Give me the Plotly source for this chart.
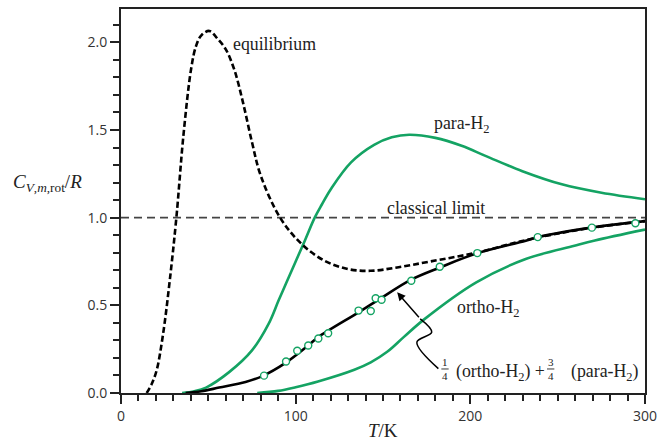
import plotly.graph_objects as go

GREEN = "#14A363"

# equilibrium (dashed black)
eq_T = [14.7, 17.5, 20.4, 24.1, 27.9, 31.7, 35.8, 40.2, 43.0, 46.0, 50.6, 55.3, 60.0, 65.0, 70.0, 75.0,
        80.0, 91.1, 103.4, 116.6, 129.8, 143.0, 158.1, 177.0, 203.4, 226.0, 240.0, 270.0, 300.0]
eq_C = [0.0, 0.05, 0.129, 0.337, 0.64, 1.0, 1.475, 1.852, 1.98, 2.04, 2.065, 2.02, 1.96, 1.84, 1.65, 1.43,
        1.24, 1.0, 0.85, 0.754, 0.707, 0.697, 0.716, 0.75, 0.80, 0.858, 0.89, 0.943, 0.98]

# normal mixture (solid black)
mix_T = [37.0, 46.0, 56.2, 71.3, 80.7, 94.0, 107.2, 112.8, 136.0, 148.7, 165.6, 182.6, 203.4, 231.7, 239.2, 269.4, 300.0]
mix_C = [0.0, 0.01, 0.031, 0.063, 0.095, 0.17, 0.271, 0.318, 0.46, 0.54, 0.644, 0.716, 0.795, 0.868, 0.89, 0.943, 0.98]

# para-H2 (green)
para_T = [35.0, 42.0, 48.7, 61.9, 75.0, 84.5, 90.2, 94.9, 100.0, 105.3, 110.9, 115.0, 120.3, 131.7, 144.9, 155.0, 165.0,
          180.0, 195.0, 209.0, 229.8, 252.4, 275.1, 300.0]
para_C = [0.0, 0.01, 0.031, 0.119, 0.243, 0.394, 0.527, 0.634, 0.75, 0.87, 1.0, 1.075, 1.165, 1.315, 1.415, 1.458, 1.473,
          1.455, 1.41, 1.351, 1.265, 1.19, 1.142, 1.105]

# ortho-H2 (green)
ortho_T = [78.0, 90.0, 100.0, 112.8, 133.6, 143.0, 152.4, 162.0, 173.2, 203.4, 231.7, 259.6, 271.3, 300.0]
ortho_C = [0.0, 0.012, 0.033, 0.066, 0.133, 0.175, 0.235, 0.32, 0.417, 0.631, 0.764, 0.84, 0.87, 0.932]

# experimental points
exp_T = [81.9, 94.5, 100.9, 107.2, 113.0, 118.6, 136.0, 143.0, 145.8, 149.2, 166.2, 182.5, 204.0, 238.6, 269.6, 294.5]
exp_C = [0.099, 0.180, 0.241, 0.271, 0.311, 0.341, 0.470, 0.468, 0.540, 0.532, 0.640, 0.72, 0.798, 0.889, 0.943, 0.968]

classical_T = [0, 300]
classical_C = [1.0, 1.0]

# squiggle leader for the mixture label
squig_T = [171.3, 177.9, 169.4, 181.7]
squig_C = [0.423, 0.347, 0.290, 0.139]
arrow_tip = (158.1, 0.574)

x_ticks = [0, 100, 200, 300]
y_ticks = [0.0, 0.5, 1.0, 1.5, 2.0]

fig = go.Figure()
fig.add_trace(go.Scatter(x=classical_T, y=classical_C, mode="lines",
                         line=dict(color="#444444", width=1.8, dash="8px,5px")))
fig.add_trace(go.Scatter(x=para_T, y=para_C, mode="lines", line_shape="spline",
                         line=dict(color=GREEN, width=2.6)))
fig.add_trace(go.Scatter(x=ortho_T, y=ortho_C, mode="lines", line_shape="spline",
                         line=dict(color=GREEN, width=2.6)))
fig.add_trace(go.Scatter(x=mix_T, y=mix_C, mode="lines", line_shape="spline",
                         line=dict(color="black", width=2.6)))
fig.add_trace(go.Scatter(x=eq_T, y=eq_C, mode="lines", line_shape="spline",
                         line=dict(color="black", width=2.6, dash="6px,3px")))
fig.add_trace(go.Scatter(x=exp_T, y=exp_C, mode="markers",
                         marker=dict(symbol="circle", size=7, color="white",
                                     line=dict(color=GREEN, width=1.4))))
fig.add_trace(go.Scatter(x=squig_T, y=squig_C, mode="lines", line_shape="spline",
                         line=dict(color="black", width=1.5)))

serif = dict(family="Liberation Serif", size=17.8, color="#222222")
frac_font = dict(family="Liberation Serif", size=11, color="#222222")
fig.add_annotation(x=62.8, y=1.99, xref="x", yref="y", text="equilibrium", showarrow=False,
                   xanchor="left", yanchor="middle", font=serif)
fig.add_annotation(x=177.9, y=1.53, xref="x", yref="y", text="para-H<sub>2</sub>", showarrow=False,
                   xanchor="left", yanchor="middle", font=serif)
fig.add_annotation(x=150.9, y=1.057, xref="x", yref="y", text="classical limit", showarrow=False,
                   xanchor="left", yanchor="middle", font=serif)
fig.add_annotation(x=191.5, y=0.484, xref="x", yref="y", text="ortho-H<sub>2</sub>", showarrow=False,
                   xanchor="left", yanchor="middle", font=serif)
# mixture label: two stacked fractions and two text pieces
fig.add_annotation(x=190.6, y=0.119, xref="x", yref="y", text="(ortho-H<sub>2</sub>) +", showarrow=False,
                   xanchor="left", yanchor="middle", font=serif)
fig.add_annotation(x=256.2, y=0.119, xref="x", yref="y", text="(para-H<sub>2</sub>)", showarrow=False,
                   xanchor="left", yanchor="middle", font=serif)
for fx, num in [(185.5, "1"), (246.0, "3")]:
    fig.add_annotation(x=fx, y=0.137, xref="x", yref="y", text=f"{num}<br>4", showarrow=False,
                       xanchor="center", yanchor="middle", font=frac_font)
    fig.add_shape(type="line", xref="x", yref="y", x0=fx - 2.1, x1=fx + 2.1, y0=0.137, y1=0.137,
                  line=dict(color="#222222", width=0.9))
fig.add_annotation(x=arrow_tip[0], y=arrow_tip[1], ax=squig_T[0], ay=squig_C[0], xref="x", yref="y",
                   axref="x", ayref="y", text="", showarrow=True, arrowhead=2, arrowsize=1.1,
                   arrowwidth=1.5, arrowcolor="black", standoff=0)
fig.add_annotation(x=-0.2108, y=0.548, xref="paper", yref="paper",
                   text="<i>C</i><sub><i>V</i>,<i>m</i>,rot</sub>/<i>R</i>",
                   showarrow=False, xanchor="left", yanchor="middle",
                   font=dict(family="Liberation Serif", size=19, color="#222222"))
fig.add_annotation(x=0.5, y=-0.097, xref="paper", yref="paper",
                   text="<i>T</i>/K", showarrow=False, xanchor="center", yanchor="middle",
                   font=dict(family="Liberation Serif", size=19, color="#222222"))

axis_common = dict(showgrid=False, zeroline=False, showline=True, linecolor="#222222", linewidth=2,
                   mirror=True, ticks="outside", ticklen=9, tickwidth=1.6, tickcolor="#222222",
                   tickfont=dict(family="Open Sans", size=14, color="#333333"))
fig.update_xaxes(range=[0, 300], tickvals=x_ticks, ticktext=[str(v) for v in x_ticks],
                 minor=dict(dtick=10, tick0=0, ticks="outside", ticklen=6, tickwidth=1.6, tickcolor="#222222"),
                 **axis_common)
fig.update_yaxes(range=[0, 2.19], tickvals=y_ticks, ticktext=[f"{v:.1f}" for v in y_ticks],
                 minor=dict(dtick=0.1, tick0=0, ticks="outside", ticklen=6, tickwidth=1.6, tickcolor="#222222"),
                 **axis_common)
fig.update_layout(width=664, height=440, showlegend=False, plot_bgcolor="white", paper_bgcolor="white",
                  margin=dict(l=120.7, r=13.3, t=6.7, b=47.3))
fig.write_html("out.html", config={"displayModeBar": False},
               post_script="document.body.style.margin='0';")
